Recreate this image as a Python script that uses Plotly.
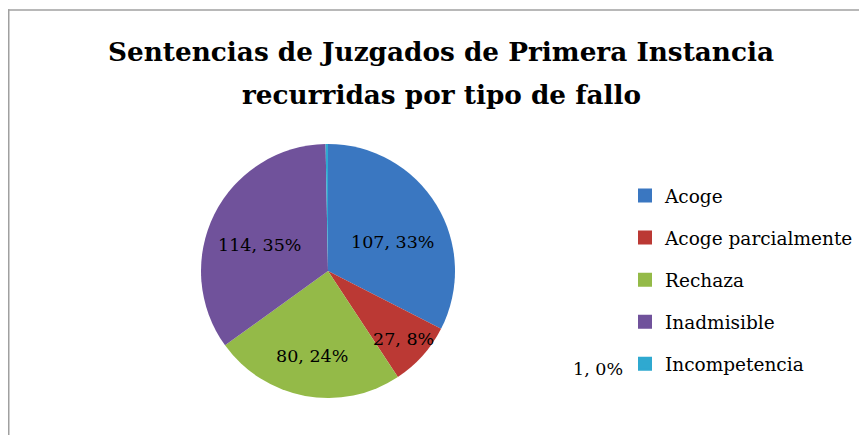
import math
import plotly.graph_objects as go

categories = ["Acoge", "Acoge parcialmente", "Rechaza", "Inadmisible", "Incompetencia"]
values = [107, 27, 80, 114, 1]
colors = ["#3a77c1", "#bb3934", "#94ba48", "#70529b", "#2fa9d0"]
title_lines = ["Sentencias de Juzgados de Primera Instancia", "recurridas por tipo de fallo"]

W, H = 867, 435
OFF = 8  # page body margin
FONT = "DejaVu Serif"


def px(x):
    return (x - OFF) / W


def py(y):
    return 1 - (y - OFF) / H


total = sum(values)

# pie geometry in page pixels
PIE_L, PIE_R, PIE_T, PIE_B = 201, 455, 144, 398
CX, CY = (PIE_L + PIE_R) / 2, (PIE_T + PIE_B) / 2
R = (PIE_R - PIE_L) / 2
label_radius = [0.6, 0.8, 0.68, 0.6]
label_yshift = [-11, 0, 0, -8]

fig = go.Figure()
fig.add_trace(go.Pie(
    labels=categories, values=values, sort=False, direction="clockwise",
    marker=dict(colors=colors, line=dict(width=0)),
    textinfo="none", showlegend=False, hoverinfo="label+value+percent",
    domain=dict(x=[px(PIE_L), px(PIE_R)], y=[py(PIE_B), py(PIE_T)]),
))

for i, (c, col) in enumerate(zip(categories, colors)):
    fig.add_trace(go.Scatter(
        x=[None], y=[None], mode="markers", name=c, legendgroup=f"g{i}",
        marker=dict(symbol="square", size=12, color=col, line=dict(width=1, color=col)),
    ))

# slice labels, placed along each slice's middle angle
cum = 0
for i, v in enumerate(values[:-1]):
    mid = (cum + v / 2) / total * 2 * math.pi
    cum += v
    rr = label_radius[i] * R
    lx, ly = CX + rr * math.sin(mid), CY - rr * math.cos(mid)
    fig.add_annotation(
        x=px(lx), y=py(ly), xref="paper", yref="paper", showarrow=False,
        xanchor="center", yanchor="middle", yshift=label_yshift[i],
        text=f"{v}, {round(100 * v / total)}%",
        font=dict(family=FONT, size=17.5, color="black"),
    )

fig.add_annotation(
    x=px(598), y=py(369), xref="paper", yref="paper", showarrow=False,
    xanchor="center", yanchor="middle",
    text=f"{values[-1]}, {round(100 * values[-1] / total)}%",
    font=dict(family=FONT, size=17.5, color="black"),
)

for line, yc in zip(title_lines, [51, 95]):
    fig.add_annotation(
        x=px(441), y=py(yc), xref="paper", yref="paper", showarrow=False,
        xanchor="center", yanchor="middle", text=f"<b>{line}</b>",
        font=dict(family=FONT, size=26.3, color="black"),
    )

fig.update_layout(
    width=W, height=H, margin=dict(l=0, r=0, t=0, b=0),
    paper_bgcolor="white", plot_bgcolor="white",
    xaxis=dict(visible=False), yaxis=dict(visible=False),
    legend=dict(x=px(625), y=py(177), xanchor="left", yanchor="top",
                font=dict(family=FONT, size=18.5, color="black"),
                tracegroupgap=15, traceorder="grouped",
                itemsizing="constant", bgcolor="rgba(0,0,0,0)"),
    shapes=[
        dict(type="line", xref="paper", yref="paper", x0=px(8.75), x1=px(8.75),
             y0=-0.1, y1=py(9.25), line=dict(color="#a0a0a0", width=1.5)),
        dict(type="line", xref="paper", yref="paper", x0=px(8), x1=1.1,
             y0=py(10), y1=py(10), line=dict(color="#a0a0a0", width=1.5)),
    ],
)

fig.write_html("out.html")
